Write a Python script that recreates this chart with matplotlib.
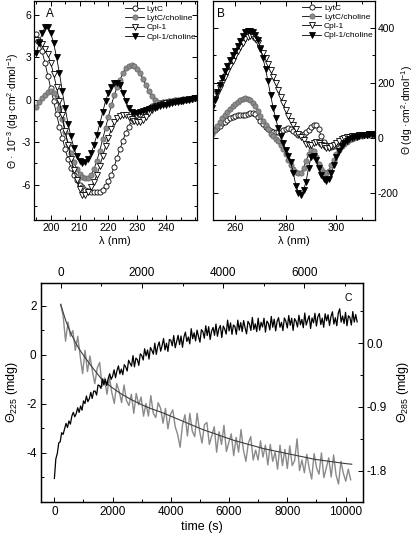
import numpy as np
import matplotlib
matplotlib.use("Agg")
import matplotlib.pyplot as plt
from matplotlib.ticker import MultipleLocator, FixedLocator, FormatStrFormatter

plt.rcParams['font.family'] = ['Liberation Sans', 'DejaVu Sans']
plt.rcParams['axes.unicode_minus'] = False
plt.rcParams['mathtext.fontset'] = 'custom'
plt.rcParams['mathtext.rm'] = 'Liberation Sans'
plt.rcParams['mathtext.it'] = 'Liberation Sans:italic'

# ---------------- Panel A data (far-UV CD) ----------------
lam_A = np.arange(195, 251)
lytc_A = [4.6, 4.1, 3.4, 2.6, 1.7, 0.8, -0.1, -1.0, -1.9, -2.7,
          -3.5, -4.2, -4.8, -5.3, -5.7, -6.0, -6.2, -6.35, -6.45, -6.5,
          -6.55, -6.55, -6.5, -6.35, -6.1, -5.75, -5.3, -4.75, -4.1, -3.5,
          -2.9, -2.35, -1.9, -1.5, -1.25, -1.1, -1.0, -0.9, -0.75, -0.6,
          -0.45, -0.35, -0.28, -0.22, -0.18, -0.14, -0.11, -0.08, -0.05, -0.03,
          0.0, 0.02, 0.04, 0.06, 0.08, 0.1]
lytc_cho_A = [-0.5, -0.2, 0.1, 0.35, 0.55, 0.6, 0.5, 0.1, -0.6, -1.4,
              -2.3, -3.1, -3.8, -4.4, -4.9, -5.25, -5.45, -5.55, -5.5, -5.3,
              -4.9, -4.3, -3.6, -2.8, -2.0, -1.2, -0.4, 0.3, 0.9, 1.4,
              1.85, 2.2, 2.4, 2.42, 2.35, 2.15, 1.85, 1.45, 1.0, 0.6,
              0.25, 0.0, -0.15, -0.22, -0.22, -0.2, -0.18, -0.15, -0.12, -0.1,
              -0.07, -0.04, -0.01, 0.02, 0.05, 0.08]
cpl1_A = [4.2, 4.1, 3.9, 3.6, 3.2, 2.6, 1.8, 0.9, -0.1, -1.1,
          -2.2, -3.2, -4.2, -5.0, -5.7, -6.3, -6.7, -6.7, -6.5, -6.2,
          -5.8, -5.3, -4.7, -4.0, -3.3, -2.7, -2.1, -1.6, -1.3, -1.15,
          -1.1, -1.1, -1.2, -1.35, -1.5, -1.6, -1.6, -1.45, -1.2, -0.95,
          -0.7, -0.55, -0.45, -0.38, -0.32, -0.27, -0.22, -0.18, -0.14, -0.1,
          -0.07, -0.04, -0.01, 0.02, 0.05, 0.08]
cpl1_cho_A = [3.3, 4.0, 4.7, 5.1, 5.1, 4.7, 4.0, 3.0, 1.9, 0.6,
              -0.6, -1.7, -2.6, -3.4, -4.0, -4.35, -4.45, -4.4, -4.2, -3.8,
              -3.2, -2.5, -1.7, -0.9, -0.1, 0.5, 0.9, 1.15, 1.2, 1.0,
              0.5, -0.1, -0.6, -0.85, -0.95, -0.95, -0.9, -0.82, -0.75, -0.68,
              -0.62, -0.56, -0.5, -0.45, -0.4, -0.35, -0.3, -0.25, -0.2, -0.16,
              -0.12, -0.08, -0.04, 0.0, 0.04, 0.08]

# ---------------- Panel B data (near-UV CD) ----------------
lam_B = np.arange(251, 316)
lytc_B = [20, 28, 36, 44, 52, 58, 64, 70, 75, 79,
          82, 84, 82, 84, 88, 90, 90, 85, 75, 62,
          50, 40, 32, 26, 22, 20, 20, 22, 28, 32,
          34, 32, 26, 18, 10, 8, 12, 20, 28, 38,
          45, 45, 30, 5, -15, -28, -35, -35, -30, -22,
          -15, -8, -3, 1, 4, 6, 7, 8, 9, 10,
          11, 12, 12, 13, 14]
lytc_cho_B = [15, 28, 42, 56, 70, 82, 94, 105, 115, 124,
              131, 137, 141, 143, 142, 137, 128, 115, 98, 80,
              62, 45, 30, 15, 5, -3, -13, -25, -40, -58,
              -80, -100, -115, -125, -130, -128, -110, -85, -60, -45,
              -50, -70, -95, -115, -125, -128, -120, -100, -80, -60,
              -45, -32, -22, -14, -8, -4, 0, 3, 5, 7,
              9, 10, 11, 12, 13]
cpl1_B = [120, 140, 160, 180, 200, 220, 240, 260, 280, 298,
          315, 330, 345, 358, 368, 372, 368, 358, 345, 328,
          308, 290, 268, 245, 222, 198, 175, 150, 125, 100,
          80, 62, 45, 30, 15, 2, -10, -22, -28, -25,
          -18, -15, -18, -25, -32, -36, -36, -32, -25, -18,
          -12, -6, -2, 1, 3, 5, 6, 7, 8, 9,
          10, 11, 12, 13, 14]
cpl1_cho_B = [110, 138, 165, 192, 218, 243, 263, 283, 300, 317,
              335, 352, 370, 385, 390, 390, 387, 375, 355, 325,
              290, 250, 205, 155, 110, 70, 35, 5, -20, -45,
              -65, -90, -130, -175, -200, -210, -192, -160, -110, -70,
              -65, -80, -110, -135, -150, -158, -150, -130, -100, -70,
              -48, -32, -20, -12, -6, -2, 1, 4, 6, 8,
              10, 11, 12, 13, 14]

# ---------------- Panel C data (kinetics) ----------------
theta225_step = 50  # s, bottom axis
theta225 = [-5.05, -4.25, -4.03, -3.6, -3.55, -3.18, -3.25, -3.03, -2.8, -2.97,
            -2.7, -2.83, -2.5, -2.35, -2.53, -2.4, -2.16, -2.35, -2.09, -2.26,
            -1.88, -1.99, -1.68, -1.91, -1.79, -1.53, -1.78, -1.48, -1.48, -1.64,
            -1.23, -1.26, -1.37, -0.98, -1.23, -1.0, -1.25, -0.96, -0.77, -1.0,
            -0.87, -0.61, -0.93, -0.64, -0.45, -0.78, -0.58, -0.81, -0.4, -0.49,
            -0.66, -0.22, -0.35, -0.46, -0.03, -0.49, -0.13, -0.19, -0.43, 0.04,
            -0.02, -0.21, 0.25, -0.04, 0.2, -0.17, 0.3, 0.18, 0.03, 0.48,
            0.02, 0.35, 0.53, 0.15, 0.38, 0.67, 0.2, 0.48, 0.14, 0.63,
            0.6, 0.37, 0.79, 0.29, 0.55, 0.8, 0.42, 0.77, 0.31, 0.73,
            0.93, 0.55, 0.73, 0.45, 1.07, 0.66, 0.9, 0.57, 1.01, 0.75,
            0.52, 1.03, 0.95, 0.68, 1.19, 0.79, 1.15, 0.63, 0.97, 1.12,
            0.8, 1.26, 0.76, 1.07, 1.2, 0.71, 1.18, 1.06, 0.85, 1.42,
            0.98, 1.31, 0.84, 1.22, 1.16, 0.84, 1.42, 1.01, 1.32, 0.95,
            1.4, 1.11, 0.86, 1.37, 1.27, 1.0, 1.53, 1.04, 1.27, 0.95,
            1.5, 1.01, 1.33, 1.14, 1.5, 0.93, 1.38, 1.29, 1.02, 1.57,
            1.13, 1.46, 0.98, 1.37, 1.52, 1.13, 1.33, 0.99, 1.51, 1.38,
            1.1, 1.61, 1.21, 1.5, 1.0, 1.48, 1.38, 1.14, 1.62, 1.23,
            1.45, 1.11, 1.71, 1.22, 1.42, 1.6, 1.08, 1.51, 1.31, 1.7,
            1.18, 1.56, 1.69, 1.24, 1.5, 1.13, 1.68, 1.39, 1.64, 1.2,
            1.57, 1.76, 1.26, 1.52, 1.19, 1.7, 1.88, 1.34, 1.59, 1.28,
            1.74, 1.19, 1.6, 1.53, 1.22, 1.77, 1.34, 1.65, 1.35]

theta285_step = 60  # s, top axis
theta285 = [0.55, 0.39, 0.03, 0.30, 0.10, 0.18, -0.10, 0.10, -0.18, -0.43,
            -0.10, -0.40, -0.18, -0.39, -0.57, -0.35, -0.27, -0.61, -0.49, -0.72,
            -0.48, -0.70, -0.85, -0.57, -0.68, -0.84, -0.59, -0.81, -0.88, -0.72,
            -0.99, -0.71, -0.87, -0.76, -1.03, -0.85, -1.03, -0.74, -0.99, -1.05,
            -0.84, -0.92, -1.13, -0.92, -1.21, -1.01, -0.94, -1.18, -1.29, -1.47,
            -1.15, -1.01, -1.31, -0.99, -1.24, -1.32, -0.99, -1.24, -1.41, -1.15,
            -1.12, -1.43, -1.31, -1.18, -1.54, -1.25, -1.43, -1.16, -1.53, -1.40,
            -1.28, -1.59, -1.33, -1.54, -1.22, -1.51, -1.67, -1.41, -1.32, -1.65,
            -1.51, -1.65, -1.38, -1.61, -1.44, -1.72, -1.43, -1.67, -1.54, -1.78,
            -1.44, -1.73, -1.50, -1.77, -1.45, -1.73, -1.66, -1.35, -1.80, -1.65,
            -1.83, -1.57, -1.77, -1.92, -1.56, -1.76, -1.85, -1.55, -1.90, -1.76,
            -1.62, -1.89, -1.58, -1.86, -1.99, -1.67, -1.84, -1.95, -1.78, -1.93]

fit285_t = [0, 125, 250, 375, 500, 625, 750, 875, 1000, 1250, 1500, 1750,
            2000, 2250, 2500, 2750, 3000, 3250, 3500, 3750, 4000, 4250,
            4500, 4750, 5000, 5250, 5500, 5750, 6000, 6250, 6500, 6750, 7000, 7166]
fit285_v = [0.55, 0.32, 0.14, 0.0, -0.12, -0.22, -0.32, -0.41, -0.5, -0.62, -0.72, -0.8,
            -0.87, -0.93, -0.98, -1.04, -1.1, -1.16, -1.22, -1.27, -1.32, -1.37,
            -1.41, -1.45, -1.49, -1.52, -1.55, -1.58, -1.61, -1.64, -1.66, -1.68, -1.70, -1.71]

labels = ['LytC', 'LytC/choline', 'Cpl-1', 'Cpl-1/choline']

W, H = 416, 536
fig = plt.figure(figsize=(W / 100, H / 100), dpi=100)


def px(x0, y0, x1, y1):
    return [x0 / W, 1 - y1 / H, (x1 - x0) / W, (y1 - y0) / H]


styles = [
    dict(marker='o', mfc='white', mec='black', color='black'),
    dict(marker='o', mfc='#8c8c8c', mec='#6a6a6a', color='black'),
    dict(marker='v', mfc='white', mec='black', color='black'),
    dict(marker='v', mfc='black', mec='black', color='black'),
]


def spectra(ax, lam, series):
    for s, y, lab in zip(styles, series, labels):
        ax.plot(lam, y, lw=0.6, ms=3.7, mew=0.6, label=lab, **s)


def style_ticks(ax, size):
    ax.tick_params(which='both', direction='in', top=True, right=True,
                   labelsize=size, width=0.7, pad=2)
    ax.tick_params(which='major', length=3.5)
    ax.tick_params(which='minor', length=2)
    for sp in ax.spines.values():
        sp.set_linewidth(0.9)


leg_kw = dict(loc='upper left', frameon=False, fontsize=6, handlelength=2.3,
              handletextpad=0.3, labelspacing=0.15, borderpad=0.2, borderaxespad=0)

# Panel A
axA = fig.add_axes(px(34, 0.5, 196.7, 220))
spectra(axA, lam_A, [lytc_A, lytc_cho_A, cpl1_A, cpl1_cho_A])
axA.set_xlim(194.2, 250.6)
axA.set_ylim(-8.5, 7.0)
axA.xaxis.set_major_locator(FixedLocator([200, 210, 220, 230, 240]))
axA.xaxis.set_minor_locator(MultipleLocator(5))
axA.yaxis.set_major_locator(MultipleLocator(3))
axA.yaxis.set_minor_locator(MultipleLocator(1.5))
style_ticks(axA, 7.5)
axA.set_xlabel('λ (nm)', fontsize=8, labelpad=2)
axA.set_ylabel('Θ · 10$^{-3}$ (dg·cm$^{2}$·dmol$^{-1}$)', fontsize=7.5, labelpad=1)
axA.text(0.1, 0.965, 'A', transform=axA.transAxes, fontsize=8.5, va='top', ha='center')
axA.legend(bbox_to_anchor=(0.55, 0.985), **leg_kw)

# Panel B
axB = fig.add_axes(px(213.3, 0.5, 375, 220))
spectra(axB, lam_B, [lytc_B, lytc_cho_B, cpl1_B, cpl1_cho_B])
axB.set_xlim(251.4, 315.2)
axB.set_ylim(-300, 500)
axB.xaxis.set_major_locator(FixedLocator([260, 280, 300]))
axB.xaxis.set_minor_locator(MultipleLocator(10))
axB.yaxis.set_major_locator(FixedLocator([-200, 0, 200, 400]))
axB.yaxis.set_minor_locator(MultipleLocator(100))
style_ticks(axB, 7.5)
axB.tick_params(axis='y', labelleft=False, labelright=True)
axB.yaxis.set_label_position('right')
axB.set_xlabel('λ (nm)', fontsize=8, labelpad=2)
axB.set_ylabel('Θ (dg ·cm$^{2}$·dmol$^{-1}$)', fontsize=7.5, labelpad=0.5)
axB.text(0.05, 0.965, 'B', transform=axB.transAxes, fontsize=8.5, va='top', ha='center')
axB.legend(bbox_to_anchor=(0.54, 0.99), **leg_kw)

# Panel C
posC = px(40.7, 282.7, 362.7, 501.7)
axG = fig.add_axes(posC)     # gray trace: top x, right y
axC = fig.add_axes(posC)     # black trace: bottom x, left y
axC.set_zorder(3)
axC.patch.set_visible(False)

t225 = np.arange(len(theta225)) * theta225_step
t285 = np.arange(len(theta285)) * theta285_step
axG.plot(t285, theta285, color='#8a8a8a', lw=1.0)
axG.plot(fit285_t, fit285_v, color='#3c3c3c', lw=0.8)
axC.plot(t225, theta225, color='black', lw=0.9)

axC.set_xlim(-470, 10590)
axC.set_ylim(-6.0, 2.95)
axG.set_xlim(-492, 7436)
axG.set_ylim(-2.24, 0.857)

axC.xaxis.set_major_locator(MultipleLocator(2000))
axC.xaxis.set_minor_locator(MultipleLocator(1000))
axC.yaxis.set_major_locator(FixedLocator([-4, -2, 0, 2]))
axC.yaxis.set_minor_locator(MultipleLocator(1))
axC.tick_params(which='both', direction='in', top=False, right=False,
                labelsize=8.5, width=0.7, pad=3)
axC.tick_params(which='major', length=3.5)
axC.tick_params(which='minor', length=2)

axG.xaxis.tick_top()
axG.yaxis.tick_right()
axG.xaxis.set_major_locator(FixedLocator([0, 2000, 4000, 6000]))
axG.xaxis.set_minor_locator(MultipleLocator(1000))
axG.yaxis.set_major_locator(FixedLocator([-1.8, -0.9, 0.0]))
axG.yaxis.set_minor_locator(MultipleLocator(0.45))
axG.yaxis.set_major_formatter(FormatStrFormatter('%.1f'))
axG.tick_params(which='both', direction='in', bottom=False, left=False,
                labelsize=8.5, width=0.7, pad=3)
axG.tick_params(which='major', length=3.5)
axG.tick_params(which='minor', length=2)
axG.yaxis.set_label_position('right')
for sp in list(axC.spines.values()) + list(axG.spines.values()):
    sp.set_linewidth(0.9)

axC.set_xlabel('time (s)', fontsize=9, labelpad=2)
axC.set_ylabel('Θ$_{225}$ (mdg)', fontsize=9, labelpad=4)
axG.set_ylabel('Θ$_{285}$ (mdg)', fontsize=9, labelpad=6)
axC.text(0.955, 0.955, 'C', transform=axC.transAxes, fontsize=7.5, va='top', ha='center')

fig.savefig('out.png', dpi=100)
